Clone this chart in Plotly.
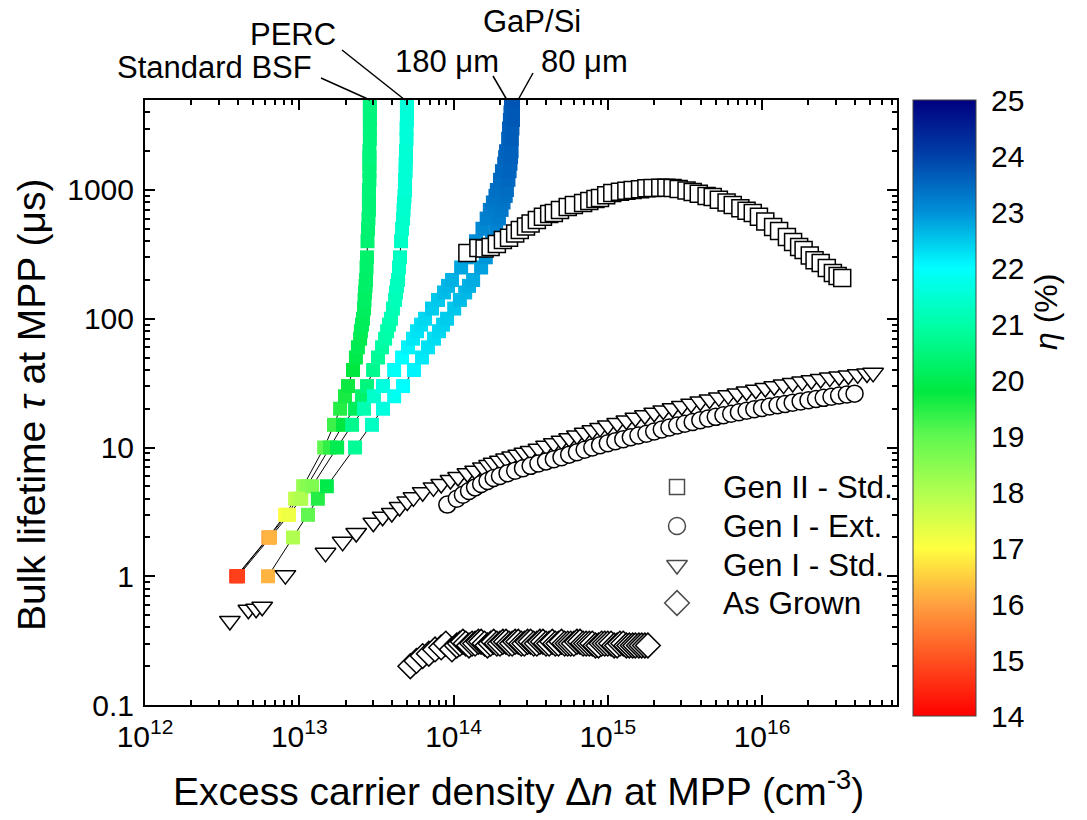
import plotly.graph_objects as go

# ---------------- data ----------------
tau_sim = [1, 2, 3, 4, 5, 10, 15, 20, 25, 30, 40, 50, 60, 70, 80, 90, 100, 120, 140, 160,
           180, 200, 250, 300, 400, 500, 600, 700, 800, 900, 1000, 1200, 1400, 1600, 1800,
           2000, 2500, 3000, 3500, 4000, 4500, 5000]

dn_bsf = [3.9e12, 6.3e12, 8.1e12, 9.4e12, 1.06e13, 1.45e13, 1.68e13, 1.84e13, 1.98e13, 2.07e13,
          2.23e13, 2.33e13, 2.40e13, 2.48e13, 2.51e13, 2.55e13, 2.59e13, 2.63e13, 2.65e13, 2.67e13,
          2.69e13, 2.71e13, 2.73e13, 2.75e13, 2.77e13, 2.79e13, 2.81e13, 2.83e13, 2.83e13, 2.83e13,
          2.83e13, 2.85e13, 2.85e13, 2.85e13, 2.85e13, 2.85e13, 2.87e13, 2.87e13, 2.87e13, 2.87e13,
          2.87e13, 2.87e13]
eta_bsf = [14.6, 16.0, 17.0, 17.8, 18.3, 19.0, 19.3, 19.5, 19.6, 19.7, 19.8, 19.9, 20.0, 20.0,
           20.05, 20.1, 20.1, 20.15, 20.2, 20.2, 20.25, 20.25, 20.3, 20.3, 20.35, 20.35, 20.4, 20.4,
           20.4, 20.4, 20.45, 20.45, 20.45, 20.45, 20.5, 20.5, 20.5, 20.5, 20.5, 20.5, 20.5, 20.5]

dn_perc = [3.95e12, 6.37e12, 8.33e12, 9.81e12, 1.12e13, 1.58e13, 1.92e13, 2.30e13, 2.55e13, 2.75e13,
           3.01e13, 3.24e13, 3.44e13, 3.60e13, 3.71e13, 3.82e13, 3.93e13, 4.05e13, 4.18e13, 4.24e13,
           4.30e13, 4.37e13, 4.43e13, 4.50e13, 4.57e13, 4.64e13, 4.71e13, 4.74e13, 4.78e13, 4.81e13,
           4.85e13, 4.85e13, 4.89e13, 4.89e13, 4.92e13, 4.92e13, 4.96e13, 4.96e13, 4.99e13, 4.99e13,
           4.99e13, 4.99e13]
eta_perc = [14.7, 16.1, 17.1, 17.9, 18.5, 19.4, 19.8, 20.1, 20.3, 20.5, 20.7, 20.8, 20.9, 21.0,
            21.0, 21.05, 21.1, 21.15, 21.2, 21.2, 21.25, 21.25, 21.3, 21.3, 21.35, 21.4, 21.4, 21.45,
            21.45, 21.45, 21.5, 21.5, 21.5, 21.5, 21.5, 21.5, 21.55, 21.55, 21.55, 21.55, 21.55, 21.55]

dn_gap180 = [4.01e12, 6.46e12, 8.58e12, 1.03e13, 1.21e13, 1.76e13, 2.20e13, 2.63e13, 3.05e13, 3.49e13,
             4.12e13, 4.64e13, 5.07e13, 5.46e13, 5.80e13, 6.16e13, 6.54e13, 7.25e13, 7.93e13, 8.68e13,
             9.21e13, 9.78e13, 1.12e14, 1.22e14, 1.40e14, 1.54e14, 1.64e14, 1.72e14, 1.80e14, 1.87e14,
             1.91e14, 2.00e14, 2.06e14, 2.13e14, 2.16e14, 2.19e14, 2.26e14, 2.29e14, 2.32e14, 2.34e14,
             2.36e14, 2.36e14]
eta_gap180 = [14.8, 16.2, 17.2, 18.0, 18.6, 20.0, 20.7, 21.1, 21.4, 21.6, 21.9, 22.0, 22.1, 22.2,
              22.25, 22.3, 22.35, 22.45, 22.5, 22.6, 22.65, 22.7, 22.8, 22.9, 23.0, 23.1, 23.2, 23.25,
              23.3, 23.35, 23.4, 23.45, 23.5, 23.5, 23.55, 23.55, 23.6, 23.6, 23.65, 23.65, 23.65, 23.7]

dn_gap80 = [6.27e12, 9.11e12, 1.14e13, 1.32e13, 1.51e13, 2.30e13, 2.96e13, 3.49e13, 4.12e13, 4.71e13,
            5.54e13, 6.25e13, 6.83e13, 7.47e13, 8.05e13, 8.55e13, 9.08e13, 1.01e14, 1.10e14, 1.19e14,
            1.26e14, 1.34e14, 1.51e14, 1.62e14, 1.78e14, 1.89e14, 1.97e14, 2.05e14, 2.11e14, 2.18e14,
            2.22e14, 2.27e14, 2.31e14, 2.34e14, 2.36e14, 2.38e14, 2.39e14, 2.41e14, 2.43e14, 2.43e14,
            2.43e14, 2.43e14]
eta_gap80 = [16.2, 18.0, 19.0, 19.5, 19.9, 20.8, 21.3, 21.6, 21.8, 22.0, 22.1, 22.2, 22.25, 22.3,
             22.35, 22.4, 22.45, 22.5, 22.6, 22.65, 22.7, 22.75, 22.85, 22.95, 23.05, 23.15, 23.25,
             23.3, 23.35, 23.4, 23.45, 23.5, 23.55, 23.55, 23.6, 23.6, 23.65, 23.65, 23.7, 23.7, 23.7, 23.75]

dn_gen2 = [1.23e14, 1.45e14, 1.59e14, 1.74e14, 1.91e14, 2.09e14, 2.29e14, 2.51e14, 2.69e14, 2.95e14,
           3.16e14, 3.47e14, 3.80e14, 4.17e14, 4.47e14, 4.90e14, 5.50e14, 6.03e14, 6.92e14, 7.59e14,
           8.32e14, 8.91e14, 9.77e14, 1.07e15, 1.20e15, 1.32e15, 1.45e15, 1.62e15, 1.78e15, 1.95e15,
           2.19e15, 2.40e15, 2.63e15, 2.88e15, 3.24e15, 3.55e15, 3.89e15, 4.37e15, 4.79e15, 5.25e15,
           5.89e15, 6.46e15, 7.24e15, 7.94e15, 8.71e15, 9.55e15, 1.05e16, 1.18e16, 1.29e16, 1.45e16,
           1.59e16, 1.74e16, 1.86e16, 2.04e16, 2.19e16, 2.40e16, 2.63e16, 2.88e16, 3.09e16, 3.31e16]
tau_gen2 = [324, 354, 352, 360, 380, 409, 425, 460, 489, 520, 550, 585, 620, 650, 663, 700, 738, 765,
            793, 820, 850, 867, 910, 948, 970, 985, 1000, 1015, 1030, 1037, 1040, 1040, 1037, 1020,
            990, 964, 935, 900, 882, 840, 800, 765, 720, 690, 663, 620, 570, 516, 480, 432, 395, 360,
            342, 310, 285, 271, 248, 227, 215, 207]

dn_gen1_ext = [9.12e13, 1.05e14, 1.15e14, 1.26e14, 1.38e14, 1.51e14, 1.66e14, 1.82e14, 2.00e14, 2.24e14,
               2.51e14, 2.82e14, 3.16e14, 3.55e14, 3.98e14, 4.47e14, 5.01e14, 5.62e14, 6.31e14, 7.08e14,
               7.94e14, 8.91e14, 1.00e15, 1.12e15, 1.26e15, 1.41e15, 1.58e15, 1.78e15, 2.00e15, 2.24e15,
               2.51e15, 2.82e15, 3.16e15, 3.55e15, 3.98e15, 4.47e15, 5.01e15, 5.62e15, 6.31e15, 7.08e15,
               7.94e15, 8.91e15, 1.00e16, 1.12e16, 1.26e16, 1.41e16, 1.58e16, 1.78e16, 2.00e16, 2.24e16,
               2.51e16, 2.82e16, 3.16e16, 3.55e16, 3.98e16]
tau_gen1_ext = [3.6, 4.0, 4.3, 4.6, 4.9, 5.2, 5.5, 5.8, 6.0, 6.3, 6.6, 6.9, 7.2, 7.5, 7.8, 8.1, 8.4, 8.8,
                9.2, 9.6, 10.0, 10.4, 10.8, 11.2, 11.6, 12.0, 12.4, 12.8, 13.3, 13.8, 14.3, 14.8, 15.3,
                15.8, 16.3, 16.8, 17.3, 17.8, 18.3, 18.8, 19.3, 19.8, 20.3, 20.8, 21.3, 21.8, 22.3, 22.8,
                23.3, 23.8, 24.3, 24.8, 25.3, 25.8, 26.2]

dn_gen1_std = [3.55e12, 4.68e12, 5.25e12, 5.75e12, 8.13e12, 1.48e13, 1.91e13, 2.34e13, 3.02e13, 3.47e13,
               3.98e13, 4.47e13, 5.01e13, 5.50e13, 6.31e13, 7.41e13, 8.32e13, 9.55e13, 1.07e14, 1.23e14,
               1.38e14, 1.55e14, 1.70e14, 1.82e14, 2.00e14, 2.19e14, 2.40e14, 2.63e14, 2.88e14, 3.16e14,
               3.55e14, 3.98e14, 4.47e14, 5.01e14, 5.62e14, 6.31e14, 7.08e14, 7.94e14, 8.91e14, 1.00e15,
               1.15e15, 1.32e15, 1.51e15, 1.74e15, 2.00e15, 2.29e15, 2.63e15, 3.02e15, 3.47e15, 3.98e15,
               4.57e15, 5.25e15, 6.03e15, 6.92e15, 7.94e15, 9.12e15, 1.05e16, 1.20e16, 1.38e16, 1.58e16,
               1.82e16, 2.09e16, 2.40e16, 2.75e16, 3.16e16, 3.63e16, 4.17e16, 4.79e16, 5.25e16]
tau_gen1_std = [0.45, 0.55, 0.56, 0.58, 1.02, 1.52, 1.85, 2.17, 2.6, 2.9, 3.1, 3.45, 3.8, 4.1, 4.5, 4.9,
                5.2, 5.6, 5.9, 6.3, 6.6, 7.0, 7.3, 7.6, 7.9, 8.2, 8.5, 8.8, 9.1, 9.4, 9.8, 10.3, 10.8,
                11.3, 11.8, 12.4, 13.0, 13.6, 14.2, 14.8, 15.5, 16.2, 17.0, 17.8, 18.6, 19.4, 20.2, 21.0,
                21.9, 22.8, 23.6, 24.5, 25.4, 26.3, 27.2, 28.1, 29.0, 29.9, 30.8, 31.7, 32.5, 33.3, 34.1,
                34.9, 35.6, 36.3, 37.0, 37.6, 38.0]

dn_grown = [5.25e13, 5.75e13, 6.31e13, 6.92e13, 7.59e13, 8.32e13, 8.91e13, 9.77e13,
            1.05e14, 1.10e14, 1.15e14, 1.20e14, 1.26e14, 1.32e14, 1.38e14, 1.45e14, 1.51e14, 1.59e14,
            1.66e14, 1.74e14, 1.82e14, 1.91e14, 2.00e14, 2.09e14, 2.19e14, 2.29e14, 2.40e14, 2.51e14,
            2.63e14, 2.75e14, 2.88e14, 3.02e14, 3.16e14, 3.31e14, 3.47e14, 3.63e14, 3.80e14, 3.98e14,
            4.17e14, 4.37e14, 4.57e14, 4.79e14, 5.01e14, 5.25e14, 5.50e14, 5.75e14, 6.03e14, 6.31e14,
            6.61e14, 6.92e14, 7.24e14, 7.59e14, 7.94e14, 8.32e14, 8.71e14, 9.12e14, 9.55e14, 1.00e15,
            1.05e15, 1.10e15, 1.15e15, 1.20e15, 1.26e15, 1.32e15, 1.38e15, 1.45e15, 1.51e15, 1.59e15,
            1.66e15, 1.74e15, 1.82e15]
tau_grown = [0.20, 0.22, 0.24, 0.25, 0.27, 0.28, 0.30, 0.27,
             0.29, 0.30, 0.31, 0.30, 0.29, 0.30, 0.30, 0.31, 0.31, 0.30,
             0.29, 0.30, 0.31, 0.30, 0.30, 0.31, 0.31, 0.30, 0.30, 0.31,
             0.31, 0.30, 0.30, 0.31, 0.31, 0.30, 0.30, 0.31, 0.31, 0.30,
             0.30, 0.31, 0.30, 0.30, 0.31, 0.30, 0.30, 0.30, 0.30, 0.31,
             0.31, 0.30, 0.30, 0.30, 0.30, 0.29, 0.29, 0.30, 0.30, 0.30,
             0.30, 0.29, 0.29, 0.30, 0.30, 0.29, 0.29, 0.29, 0.29, 0.29,
             0.29, 0.29, 0.29]

legend_names = ["Gen II - Std.", "Gen I - Ext.", "Gen I - Std.", "As Grown"]
legend_symbols = ["square", "circle", "triangle-down", "diamond"]

x_tickvals = [1e12, 1e13, 1e14, 1e15, 1e16]
x_ticktext = ["10<sup>12</sup>", "10<sup>13</sup>", "10<sup>14</sup>", "10<sup>15</sup>", "10<sup>16</sup>"]
y_tickvals = [0.1, 1, 10, 100, 1000]
y_ticktext = ["0.1", "1", "10", "100", "1000"]
eta_ticks = list(range(14, 26))

# ---------------- style ----------------
FONT = "Liberation Sans, Arial, Helvetica, sans-serif"
W, H = 1087, 820
L, R, T, B = 145, 897, 100, 705  # plot area in pixels


def px(x):
    return (x - L) / (R - L)


def py(y):
    return (B - y) / (B - T)


eta_scale = [
    [0.0, "#ff0000"], [1 / 11, "#ff5020"], [2 / 11, "#ffa040"], [3 / 11, "#ffff40"],
    [4 / 11, "#b0ff50"], [5 / 11, "#60f850"], [5.8 / 11, "#00e840"], [7 / 11, "#00ffa8"],
    [8 / 11, "#00ffff"], [9 / 11, "#0090d8"], [10 / 11, "#0040a8"], [1.0, "#000080"],
]

fig = go.Figure()

sims = [(dn_bsf, eta_bsf), (dn_perc, eta_perc), (dn_gap180, eta_gap180), (dn_gap80, eta_gap80)]
for dn, eta in sims:
    fig.add_trace(go.Scatter(x=dn, y=tau_sim, mode="lines", line=dict(color="black", width=1),
                             showlegend=False, hoverinfo="skip"))
for dn, eta in sims:
    fig.add_trace(go.Scatter(x=dn, y=tau_sim, mode="markers", showlegend=False,
                             marker=dict(symbol="square", size=14, color=eta, coloraxis="coloraxis",
                                         line=dict(width=0))))

open_marker = dict(color="white", line=dict(color="black", width=1.5))
fig.add_trace(go.Scatter(x=dn_gen1_std, y=tau_gen1_std, mode="markers", showlegend=False,
                         marker=dict(symbol="triangle-down", size=18, **open_marker)))
fig.add_trace(go.Scatter(x=dn_gen1_ext, y=tau_gen1_ext, mode="markers", showlegend=False,
                         marker=dict(symbol="circle", size=17, **open_marker)))
fig.add_trace(go.Scatter(x=dn_grown, y=tau_grown, mode="markers", showlegend=False,
                         marker=dict(symbol="diamond", size=19, **open_marker)))
fig.add_trace(go.Scatter(x=dn_gen2, y=tau_gen2, mode="markers", showlegend=False,
                         marker=dict(symbol="square", size=17, **open_marker)))

# hand-placed legend (symbols on an overlay axis spanning the plot area)
leg_x, leg_text_x = 677, 721
leg_rows = [487, 526, 565, 603]
leg_sizes = [15, 17, 18, 19]
fig.add_trace(go.Scatter(x=[px(leg_x)] * 4, y=[py(v) for v in leg_rows], mode="markers",
                         xaxis="x2", yaxis="y2", showlegend=False, hoverinfo="skip", cliponaxis=False,
                         marker=dict(symbol=legend_symbols, size=leg_sizes, color="white",
                                     line=dict(color="black", width=1.5))))

TICKFONT = dict(size=30, family=FONT, color="black")
axis_common = dict(
    type="log", showline=True, linecolor="black", linewidth=2, mirror="ticks",
    ticks="inside", ticklen=10, tickwidth=2, tickcolor="black", showgrid=False, zeroline=False,
    tickfont=TICKFONT,
    minor=dict(ticks="inside", ticklen=5, tickwidth=1.5, tickcolor="black", dtick="D1", showgrid=False),
)

fig.update_layout(
    width=W, height=H, autosize=False,
    margin=dict(l=L, r=W - R, t=T, b=H - B, pad=0),
    paper_bgcolor="white", plot_bgcolor="white",
    font=dict(family=FONT, color="black"),
    showlegend=False,
    xaxis=dict(range=[12, 16.875], tickvals=x_tickvals, ticktext=x_ticktext, ticklabelstandoff=4,
               **axis_common),
    yaxis=dict(range=[-1, 3.69897], tickvals=y_tickvals, ticktext=y_ticktext, ticklabelstandoff=3,
               **axis_common),
    xaxis2=dict(overlaying="x", range=[0, 1], visible=False, fixedrange=True),
    yaxis2=dict(overlaying="y", range=[0, 1], visible=False, fixedrange=True),
    coloraxis=dict(
        cmin=14, cmax=25, colorscale=eta_scale,
        colorbar=dict(x=px(913), xanchor="left", y=1.0, yanchor="top", len=616, lenmode="pixels",
                      thickness=63, thicknessmode="pixels", xpad=0, ypad=0,
                      outlinewidth=1, outlinecolor="#444", ticks="outside", ticklen=9,
                      tickcolor="rgba(0,0,0,0)", tickvals=eta_ticks, tickfont=TICKFONT),
    ),
)

annots = [
    ("Standard BSF", 214, 67, 31, 0, "center"),
    ("PERC", 293, 35, 31, 0, "center"),
    ("GaP/Si", 532, 22, 31, 0, "center"),
    ("180 μm", 447, 62, 31, 0, "center"),
    ("80 μm", 584, 62, 31, 0, "center"),
    ("Excess carrier density Δ<i>n</i> at MPP (cm<sup>-3</sup>)", 518, 788, 39, 0, "center"),
    ("Bulk lifetime <i>τ</i> at MPP (μs)", 31, 405, 39, -90, "center"),
    ("<i>η</i> (%)", 1046, 312, 32, -90, "center"),
]
for name, row in zip(legend_names, leg_rows):
    annots.append((name, leg_text_x, row, 31.5, 0, "left"))

for text, ax_, ay_, size, ang, anchor in annots:
    fig.add_annotation(text=text, x=px(ax_), y=py(ay_), xref="paper", yref="paper",
                       showarrow=False, xanchor=anchor, yanchor="middle", textangle=ang,
                       font=dict(size=size, family=FONT, color="black"))

leaders = [((321, 78), (370, 100)), ((342, 50), (405, 100)), ((493, 76), (507, 100)), ((533, 73), (518, 100))]
for (x0, y0), (x1, y1) in leaders:
    fig.add_shape(type="line", xref="paper", yref="paper", x0=px(x0), y0=py(y0), x1=px(x1), y1=py(y1),
                  line=dict(color="black", width=1.5))

fig.write_html("out.html", config={"displayModeBar": False},
               post_script="document.body.style.margin='0';document.body.style.overflow='hidden';")
